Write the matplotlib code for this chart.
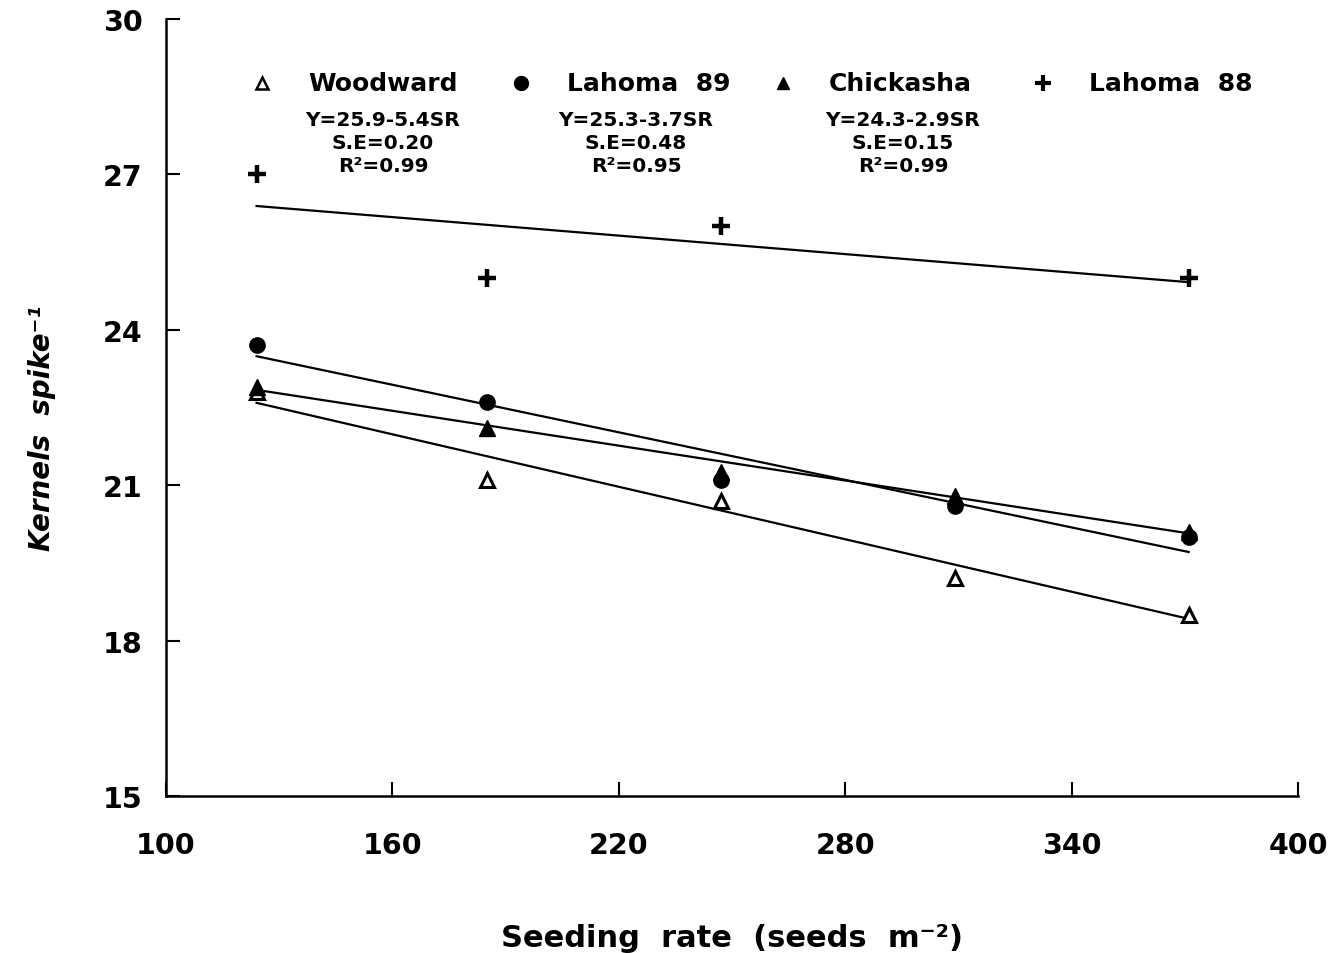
import matplotlib
matplotlib.use("Agg")
import matplotlib.pyplot as plt

# Seeding rate (seeds m-2) and kernels per spike
seeding = [124, 185, 247, 309, 371]
woodward = [22.8, 21.1, 20.7, 19.2, 18.5]
lahoma89 = [23.7, 22.6, 21.1, 20.6, 20.0]
chickasha = [22.9, 22.1, 21.25, 20.8, 20.1]

lahoma88_x = [124, 185, 247, 371]
lahoma88 = [27, 25, 26, 25]

# regression line ends (at first and last seeding rate)
fit_x = [124, 371]
woodward_fit = [22.59, 18.42]
lahoma89_fit = [23.49, 19.71]
chickasha_fit = [22.84, 20.07]
lahoma88_fit = [26.39, 24.92]

x_ticks = [100, 160, 220, 280, 340, 400]
y_ticks = [15, 18, 21, 24, 27, 30]

equations = [
    ("Y=25.9-5.4SR", "S.E=0.20", "R²=0.99"),
    ("Y=25.3-3.7SR", "S.E=0.48", "R²=0.95"),
    ("Y=24.3-2.9SR", "S.E=0.15", "R²=0.99"),
]

plt.rcParams["font.family"] = ["DejaVu Sans"]
plt.rcParams["font.weight"] = "bold"

fig = plt.figure(figsize=(13.4, 9.54), dpi=100)
ax = fig.add_axes([0.1239, 0.1646, 0.8448, 0.8144])

lw = 1.6
ax.plot(fit_x, woodward_fit, color="black", lw=lw)
ax.plot(fit_x, lahoma89_fit, color="black", lw=lw)
ax.plot(fit_x, chickasha_fit, color="black", lw=lw)
ax.plot(fit_x, lahoma88_fit, color="black", lw=lw)

ax.plot(seeding, woodward, ls="none", marker="^", ms=10, mfc="white",
        mec="black", mew=2.2, zorder=3)
ax.plot(seeding, lahoma89, ls="none", marker="o", ms=11, color="black", zorder=3)
ax.plot(seeding, chickasha, ls="none", marker="^", ms=11, color="black", zorder=3)
ax.plot(lahoma88_x, lahoma88, ls="none", marker="+", ms=13, mew=3.2,
        color="black", zorder=3)

ax.set_xlim(100, 400)
ax.set_ylim(15, 30)
ax.set_xticks(x_ticks)
ax.set_yticks(y_ticks)
ax.set_xticklabels([str(t) for t in x_ticks], fontsize=20.5, fontweight="bold")
ax.set_yticklabels([str(t) for t in y_ticks], fontsize=20.5, fontweight="bold")
ax.tick_params(direction="in", length=10, width=1.5)
ax.tick_params(axis="x", pad=25)
ax.tick_params(axis="y", pad=17)

for s in ["top", "right"]:
    ax.spines[s].set_visible(False)
for s in ["left", "bottom"]:
    ax.spines[s].set_linewidth(1.8)

ax.set_xlabel("Seeding  rate  (seeds  m⁻²)", fontsize=22, fontweight="bold",
              labelpad=46)
ax.set_ylabel("Kernels  spike⁻¹", fontsize=20, fontweight="bold",
              style="italic")
ax.yaxis.set_label_coords(-0.097, 0.475)

# legend built by hand, as in the original
leg_marker_x = [0.0848, 0.3137, 0.5451, 0.7747]
leg_text_x = [0.1254, 0.3542, 0.5857, 0.8154]
leg_names = ["Woodward", "Lahoma  89", "Chickasha", "Lahoma  88"]
leg_styles = [
    dict(marker="^", ms=8, mfc="white", mec="black", mew=1.8),
    dict(marker="o", ms=10, color="black"),
    dict(marker="^", ms=8, color="black"),
    dict(marker="+", ms=11, mew=3, color="black"),
]
leg_y = 0.9176
for mx, tx, name, st in zip(leg_marker_x, leg_text_x, leg_names, leg_styles):
    ax.plot([mx], [leg_y], ls="none", transform=ax.transAxes, clip_on=False, **st)
    ax.text(tx, leg_y, name, transform=ax.transAxes, fontsize=18,
            fontweight="bold", va="center", ha="left")

eq_x = [0.1917, 0.4152, 0.651]
eq_y = [0.8713, 0.8417, 0.8121]
for ex, lines in zip(eq_x, equations):
    for ey, line in zip(eq_y, lines):
        ax.text(ex, ey, line, transform=ax.transAxes, fontsize=14.5,
                fontweight="bold", ha="center", va="center")

fig.savefig("out.png", dpi=100)
